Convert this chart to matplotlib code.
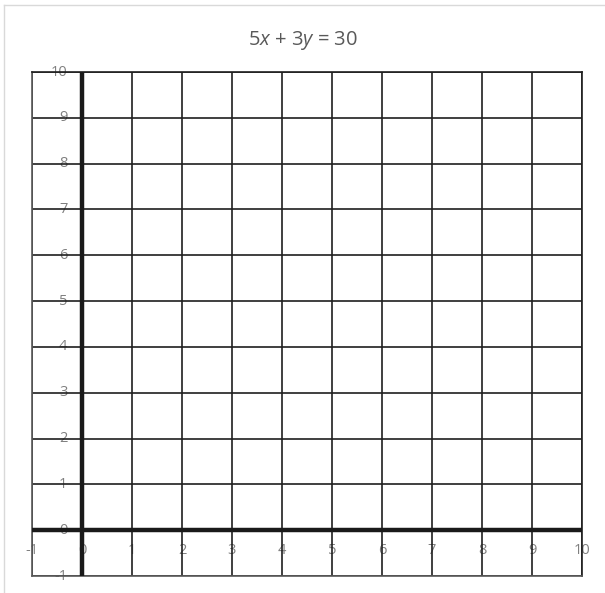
"""Blank coordinate grid for graphing 5x + 3y = 30"""

import matplotlib
matplotlib.use("Agg")

import matplotlib.pyplot as plt
from matplotlib.lines import Line2D

# axis ranges and tick values
x_ticks = [-1, 0, 1, 2, 3, 4, 5, 6, 7, 8, 9, 10]
y_ticks = [-1, 0, 1, 2, 3, 4, 5, 6, 7, 8, 9, 10]
x_labels = [str(v) for v in x_ticks]
y_labels = [str(v) for v in y_ticks]
title = r"5$\mathit{x}$ + 3$\mathit{y}$ = 30"

plt.rcParams["font.family"] = ["Open Sans", "DejaVu Sans"]
plt.rcParams["mathtext.fontset"] = "custom"
plt.rcParams["mathtext.it"] = "Open Sans:italic"
plt.rcParams["mathtext.rm"] = "Open Sans"

W, H = 605, 593
fig = plt.figure(figsize=(W / 100, H / 100), dpi=100)
ax = fig.add_axes([32 / W, 1 - 576 / H, 550 / W, 504 / H])

xmin, xmax = x_ticks[0], x_ticks[-1]
ymin, ymax = y_ticks[0], y_ticks[-1]
ax.set_xlim(xmin, xmax)
ax.set_ylim(ymin, ymax)

# grid
for x in x_ticks:
    ax.axvline(x, color="#1f1f1f", lw=1.2, zorder=2)
for y in y_ticks:
    ax.axhline(y, color="#1f1f1f", lw=1.2, zorder=2)

# main axes
ax.axvline(0, color="#1a1a1a", lw=3.2, zorder=3)
ax.axhline(0, color="#1a1a1a", lw=3.2, zorder=3)

ax.set_xticks([])
ax.set_yticks([])
for side in ["top", "right"]:
    ax.spines[side].set_color("#1f1f1f")
for side in ["left", "bottom"]:
    ax.spines[side].set_color("#595959")
for sp in ax.spines.values():
    sp.set_linewidth(1.2)

# tick labels sit on the axes lines, under the grid
lbl_color = "#808080"
for x, s in zip(x_ticks, x_labels):
    ax.annotate(s, (x, 0), xytext=(0, -14.5), textcoords="offset points",
                ha="center", va="center", fontsize=10.5, color=lbl_color,
                annotation_clip=False, zorder=1)
for y, s in zip(y_ticks, y_labels):
    ax.annotate(s, (0, y), xytext=(-10.5, 0), textcoords="offset points",
                ha="right", va="center", fontsize=10.5, color=lbl_color,
                annotation_clip=False, zorder=1)

fig.text(303 / W, 1 - 40 / H, title, ha="center", va="center",
         fontsize=14.5, color="#595959")

# chart frame
fig.add_artist(Line2D([4 / W, 4 / W], [0, 1 - 5 / H], color="#d9d9d9", lw=1.0))
fig.add_artist(Line2D([4 / W, 1], [1 - 5 / H, 1 - 5 / H], color="#d9d9d9", lw=1.0))

fig.savefig("out.png", dpi=100, facecolor="white")
plt.close(fig)
